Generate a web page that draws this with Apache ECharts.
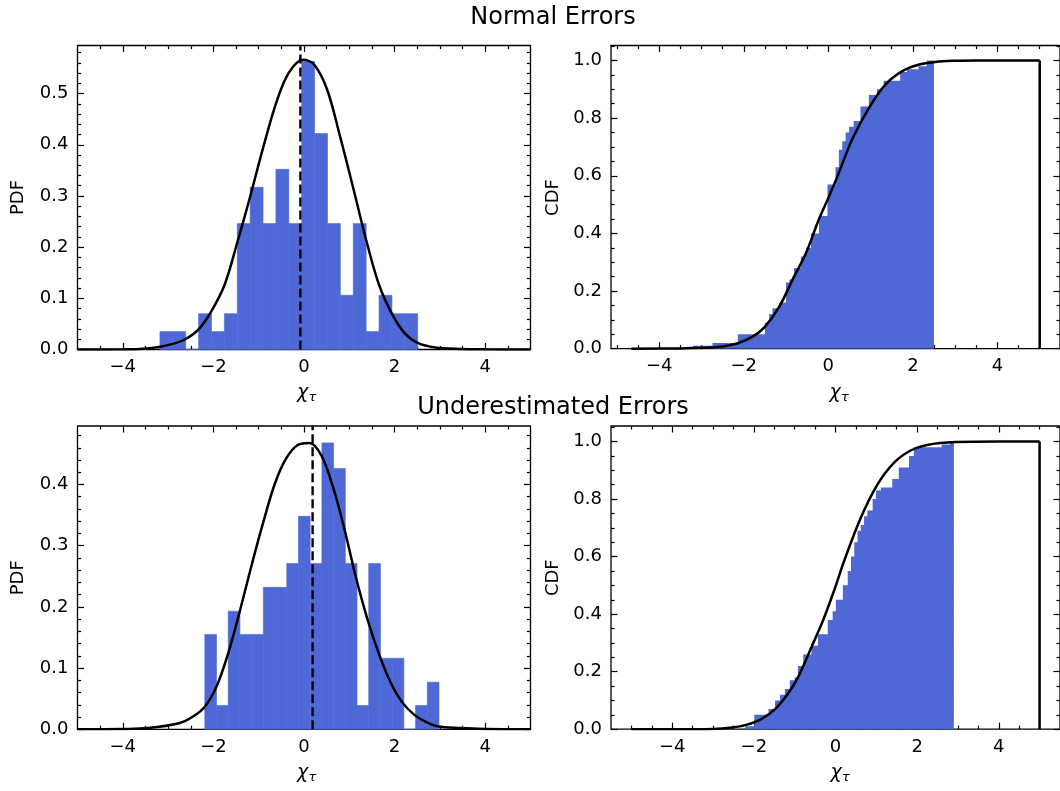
<!DOCTYPE html>
<html>
<head>
<meta charset="utf-8">
<script src="https://cdn.jsdelivr.net/npm/echarts@6/dist/echarts.min.js"></script>
<style>
  html, body { margin: 0; background: #fff; }
  #chart { width: 1060px; height: 791px; }
</style>
</head>
<body>
<div id="chart"></div>
<script>
// ---- values ----
const xTicks = [-4, -2, 0, 2, 4]
const pdfTopTicks = [0, 0.1, 0.2, 0.3, 0.4, 0.5]
const pdfBottomTicks = [0, 0.1, 0.2, 0.3, 0.4]
const cdfTicks = [0, 0.2, 0.4, 0.6, 0.8, 1.0]

// Normal errors: 20 equal bins between the two edges
const normBinRange = [-3.18, 2.51]
const normDensity = [0.035, 0.035, 0, 0.070, 0.035, 0.070, 0.246, 0.317, 0.246, 0.352,
  0.246, 0.563, 0.422, 0.246, 0.106, 0.246, 0.035, 0.106, 0.070, 0.070]
const normMean = -0.08
const normCurveX = [-5, -4, -3.64, -3.2, -2.9, -2.62, -2.32, -2.05, -1.75, -1.47, -1.2, -0.9, -0.61, -0.34,
  -0.02, 0.23, 0.51, 0.8, 1.08, 1.37, 1.65, 1.94, 2.22, 2.51, 2.9, 3.46, 4, 5]
const normCurveY = [0, 0.0003, 0.001, 0.005, 0.011, 0.02, 0.04, 0.074, 0.127, 0.21, 0.295, 0.395, 0.483, 0.54,
  0.566, 0.556, 0.508, 0.415, 0.318, 0.215, 0.128, 0.07, 0.032, 0.013, 0.004, 0.001, 0.0003, 0]
const normCdfX = [-3.20, -2.74, -2.14, -1.50, -1.40, -1.32, -1.16, -1.00, -0.92, -0.81, -0.65, -0.53, -0.41,
  -0.22, -0.02, 0.17, 0.25, 0.33, 0.41, 0.49, 0.60, 0.76, 0.96, 1.15, 1.31, 1.70, 1.86, 2.13, 2.33, 2.50]
const normCdfY = [0.01, 0.02, 0.05, 0.09, 0.12, 0.14, 0.16, 0.23, 0.24, 0.28, 0.32, 0.35, 0.40,
  0.46, 0.57, 0.63, 0.69, 0.72, 0.75, 0.77, 0.79, 0.84, 0.88, 0.90, 0.93, 0.96, 0.97, 0.98, 1.00, 1.00]
const normModelX = [-4.66, -3.5, -3.0, -2.5, -2.14, -1.79, -1.50, -1.16, -0.81, -0.53, -0.22, -0.02, 0.25,
  0.56, 0.96, 1.35, 1.74, 2.13, 2.53, 3.0, 3.5, 5.0, 5.0]
const normModelY = [0, 0.001, 0.003, 0.008, 0.019, 0.042, 0.076, 0.146, 0.25, 0.331, 0.45, 0.516, 0.61,
  0.725, 0.835, 0.916, 0.962, 0.985, 0.995, 0.999, 1.0, 1.0, 0]

// Underestimated errors
const underBinRange = [-2.19, 2.98]
const underDensity = [0.155, 0.039, 0.193, 0.155, 0.155, 0.232, 0.232, 0.271, 0.348, 0.271,
  0.468, 0.426, 0.271, 0.039, 0.271, 0.116, 0.116, 0, 0.039, 0.077]
const underMean = 0.19
const underCurveX = [-5, -4, -3.45, -2.76, -2.45, -2.19, -1.93, -1.67, -1.41, -1.15, -0.9, -0.64, -0.39, -0.13,
  0.12, 0.38, 0.64, 0.89, 1.14, 1.4, 1.66, 1.91, 2.17, 2.43, 2.69, 2.94, 3.45, 4, 5]
const underCurveY = [0, 0.0005, 0.002, 0.01, 0.021, 0.037, 0.07, 0.125, 0.195, 0.27, 0.338, 0.402, 0.443, 0.465,
  0.468, 0.448, 0.396, 0.328, 0.25, 0.18, 0.122, 0.077, 0.044, 0.024, 0.012, 0.005, 0.002, 0.0005, 0]
const underCdfX = [-2.21, -1.99, -1.64, -1.48, -1.36, -1.24, -1.12, -1.00, -0.92, -0.79, -0.59, -0.43, -0.19,
  -0.07, 0.01, 0.18, 0.30, 0.38, 0.46, 0.54, 0.62, 0.70, 0.78, 0.91, 0.99, 1.11, 1.39, 1.55, 1.80, 1.92,
  2.60, 2.81, 2.90]
const underCdfY = [0.01, 0.05, 0.07, 0.10, 0.12, 0.14, 0.17, 0.18, 0.22, 0.26, 0.29, 0.33, 0.38,
  0.41, 0.45, 0.50, 0.55, 0.60, 0.65, 0.69, 0.71, 0.74, 0.76, 0.80, 0.83, 0.84, 0.87, 0.91, 0.95, 0.98,
  0.99, 1.00, 1.00]
const underModelX = [-5, -4, -3, -2.53, -2.21, -1.81, -1.48, -1.16, -0.92, -0.59, -0.30, -0.02, 0.22, 0.62,
  1.03, 1.43, 1.83, 2.24, 2.95, 4, 5, 5]
const underModelY = [0, 0, 0.001, 0.006, 0.014, 0.036, 0.07, 0.124, 0.18, 0.285, 0.38, 0.488, 0.588, 0.735,
  0.851, 0.926, 0.968, 0.988, 0.998, 1.0, 1.0, 0]

// ---- layout / style ----
const BLUE = '#4e69d6'
const FONT = 'DejaVu Sans'

const panels = [
  { left: 77.5, top: 45.5, width: 453, height: 304, x: [-5, 5], y: [0, 0.594], yTicks: pdfTopTicks, yStep: 0.02 },
  { left: 611, top: 45.5, width: 451, height: 303.2, x: [-5.14, 5.48], y: [0, 1.052], yTicks: cdfTicks, yStep: 0.05 },
  { left: 77.5, top: 426, width: 453, height: 303.3, x: [-5, 5], y: [0, 0.4956], yTicks: pdfBottomTicks, yStep: 0.02 },
  { left: 611, top: 426, width: 453, height: 303.2, x: [-5.5, 5.5], y: [0, 1.054], yTicks: cdfTicks, yStep: 0.05 }
]

const zip = (xs, ys) => xs.map((x, i) => [x, ys[i]])

function minorTicks(lo, hi, step, majors) {
  const out = []
  const n0 = Math.ceil(lo / step - 1e-9), n1 = Math.floor(hi / step + 1e-9)
  for (let n = n0; n <= n1; n++) {
    const v = +(n * step).toFixed(4)
    if (v <= lo + 1e-6 || v >= hi - 1e-6) continue
    if (!majors.some(m => Math.abs(m - v) < 1e-6)) out.push(v)
  }
  return out
}

const fmtX = v => (v < 0 ? '\u2212' + Math.abs(v) : String(v))
const fmtY = v => v.toFixed(1)

function axis(position, gridIndex, range, ticks, len, fmt) {
  return {
    type: 'value', position, gridIndex, min: range[0], max: range[1],
    axisLine: { show: false, onZero: false },
    splitLine: { show: false },
    axisTick: { show: true, inside: true, length: len, customValues: ticks, lineStyle: { color: '#000', width: 1.2 } },
    axisLabel: {
      show: !!fmt, customValues: ticks, formatter: fmt, margin: 9,
      color: '#000', fontSize: 18, fontFamily: FONT
    }
  }
}

const grids = [], xAxes = [], yAxes = []
panels.forEach((p, i) => {
  const box = { left: p.left, top: p.top, width: p.width, height: p.height }
  grids.push({ ...box, show: true, borderColor: '#000', borderWidth: 1.3, backgroundColor: 'rgba(0,0,0,0)' })
  grids.push({ ...box })
  const xMinor = minorTicks(p.x[0], p.x[1], 0.5, xTicks)
  const yMinor = minorTicks(p.y[0], p.y[1], p.yStep, p.yTicks)
  xAxes.push(axis('bottom', 2 * i, p.x, xTicks, 6.5, fmtX))
  xAxes.push(axis('top', 2 * i, p.x, xTicks, 6.5))
  xAxes.push(axis('bottom', 2 * i + 1, p.x, xMinor, 3.6))
  xAxes.push(axis('top', 2 * i + 1, p.x, xMinor, 3.6))
  yAxes.push(axis('left', 2 * i, p.y, p.yTicks, 6.5, fmtY))
  yAxes.push(axis('right', 2 * i, p.y, p.yTicks, 6.5))
  yAxes.push(axis('left', 2 * i + 1, p.y, yMinor, 3.6))
  yAxes.push(axis('right', 2 * i + 1, p.y, yMinor, 3.6))
})

function histSeries(range, heights, idx) {
  const w = (range[1] - range[0]) / heights.length
  const data = heights.map((h, i) => [range[0] + i * w, range[0] + (i + 1) * w, h])
  return {
    type: 'custom', xAxisIndex: idx, yAxisIndex: idx,
    renderItem: (params, api) => {
      const p0 = api.coord([api.value(0), api.value(2)])
      const p1 = api.coord([api.value(1), 0])
      return {
        type: 'rect',
        shape: { x: p0[0], y: p0[1], width: p1[0] - p0[0], height: p1[1] - p0[1] },
        style: { fill: BLUE, stroke: BLUE, lineWidth: 0.6 }
      }
    },
    encode: { x: [0, 1], y: 2 },
    data
  }
}

const lineSeries = (data, idx, extra) => Object.assign({
  type: 'line', xAxisIndex: idx, yAxisIndex: idx, data, symbol: 'none',
  lineStyle: { color: '#000', width: 2.5 }
}, extra)

const smoothCurve = { smooth: 0.35 }

function cdfSeries(xs, ys, idx) {
  return lineSeries(zip(xs, ys), idx, {
    step: 'end', lineStyle: { width: 0, color: BLUE },
    areaStyle: { color: BLUE, opacity: 1 }
  })
}

function modelCdf(xs, ys, idx) {
  const pts = zip(xs, ys)
  return [
    lineSeries(pts.slice(0, -1), idx, smoothCurve),
    lineSeries(pts.slice(-2), idx)
  ]
}

const series = [
  histSeries(normBinRange, normDensity, 0),
  lineSeries(zip(normCurveX, normCurveY), 0, smoothCurve),
  lineSeries([[normMean, 0], [normMean, panels[0].y[1]]], 0, { lineStyle: { color: '#000', width: 2.4, type: [9, 4] } }),
  cdfSeries(normCdfX, normCdfY, 4),
  ...modelCdf(normModelX, normModelY, 4),
  histSeries(underBinRange, underDensity, 8),
  lineSeries(zip(underCurveX, underCurveY), 8, smoothCurve),
  lineSeries([[underMean, 0], [underMean, panels[2].y[1]]], 8, { lineStyle: { color: '#000', width: 2.4, type: [9, 4] } }),
  cdfSeries(underCdfX, underCdfY, 12),
  ...modelCdf(underModelX, underModelY, 12)
]

function label(text, x, y, size, extra) {
  return Object.assign({
    type: 'text', x, y,
    style: {
      text, fill: '#000', fontSize: size, fontFamily: FONT,
      align: 'center', verticalAlign: 'middle', textAlign: 'center', textVerticalAlign: 'middle'
    }
  }, extra)
}

function chiTau(cx, cy) {
  return [
    label('\u03c7', cx - 1.5, cy, 19, {}),
    label('\u03c4', cx + 8.5, cy + 4.5, 13, {})
  ].map(g => { g.style.fontStyle = 'italic'; return g })
}

const graphic = [
  label('Normal Errors', 553, 17.5, 24),
  label('Underestimated Errors', 553, 407.5, 24),
  label('PDF', 18, 197.5, 18, { rotation: Math.PI / 2 }),
  label('CDF', 553, 197.5, 18, { rotation: Math.PI / 2 }),
  label('PDF', 18, 577.7, 18, { rotation: Math.PI / 2 }),
  label('CDF', 553, 577.7, 18, { rotation: Math.PI / 2 }),
  ...chiTau(304, 393.5),
  ...chiTau(836.5, 393.5),
  ...chiTau(304, 773.5),
  ...chiTau(837.5, 773.5)
]

const chart = echarts.init(document.getElementById('chart'))
chart.setOption({
  animation: false,
  backgroundColor: '#fff',
  grid: grids,
  xAxis: xAxes,
  yAxis: yAxes,
  series,
  graphic
})
</script>
</body>
</html>
